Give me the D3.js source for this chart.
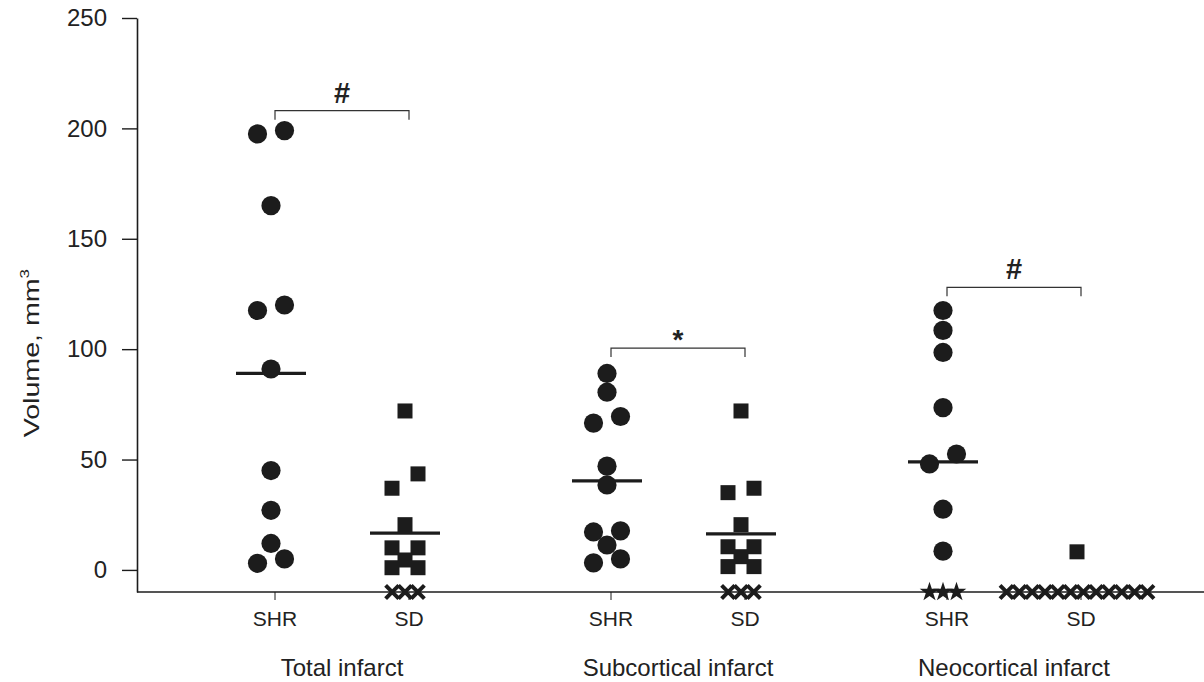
<!DOCTYPE html>
<html>
<head>
<meta charset="utf-8">
<script src="https://cdn.jsdelivr.net/npm/d3@7"></script>
<style>
  body { margin: 0; background: #fff; }
  svg { display: block; }
  text { font-family: "Liberation Sans", Arial, sans-serif; fill: #222; }
</style>
</head>
<body>
<svg width="1204" height="682"></svg>
<script>
// groups and strains
var groups = ["Total infarct", "Subcortical infarct", "Neocortical infarct"];
var strains = ["SHR", "SD"];

// infarct volume per animal, mm3
var totalShr = [199, 197.5, 165, 120, 117.5, 91, 45, 27, 12, 5, 3];
var totalSd  = [72, 43.5, 37, 20.5, 10, 10, 4.5, 1, 1];
var subShr   = [89, 80.5, 69.5, 66.5, 47, 38.5, 17.7, 17.2, 11.3, 5, 3.2];
var subSd    = [72, 37, 35, 20.5, 10.5, 10.5, 6, 1.5, 1.5];
var neoShr   = [117.5, 108.5, 98.5, 73.5, 52.5, 48, 27.5, 8.5];
var neoSd    = [8.2];

// animals with no infarct of that type (plotted on the axis)
var zeroCounts = [0, 3, 0, 3, 3, 12];
// median lines (null = not drawn)
var medians = [89, 16.7, 40.3, 16.3, 48.9, null];

// significance brackets
var sigLabels = ["#", "*", "#"];
var sigLevels = [208, 100.5, 128];

var yTicks = [0, 50, 100, 150, 200, 250];

var svg = d3.select("svg"),
    margin = {top: 18, left: 137, bottom: 90},
    W = +svg.attr("width"),
    H = +svg.attr("height");

var y = d3.scaleLinear().domain([-10, 250]).range([H - margin.bottom, margin.top]);
var x0 = d3.scalePoint().domain(groups).range([338, 1010]);
var x1 = d3.scalePoint().domain(strains).range([-67, 67]);
var tickShift = 4;
var dx = d3.scaleLinear().domain([-1, 1]);

var series = [
  {g: groups[0], s: "SHR", values: totalShr},
  {g: groups[0], s: "SD",  values: totalSd},
  {g: groups[1], s: "SHR", values: subShr},
  {g: groups[1], s: "SD",  values: subSd},
  {g: groups[2], s: "SHR", values: neoShr},
  {g: groups[2], s: "SD",  values: neoSd}
];
series.forEach(function(d, i) {
  d.x = x0(d.g) + x1(d.s);
  d.zero = zeroCounts[i];
  d.median = medians[i];
});

// simple swarm: close neighbours are split left/right, others stay centred
function swarm(vals) {
  var v = vals.slice().sort(d3.descending), out = [], i = 0;
  while (i < v.length) {
    var d1 = i + 1 < v.length ? v[i] - v[i + 1] : Infinity;
    var d2 = i + 2 < v.length ? v[i + 1] - v[i + 2] : Infinity;
    if (d1 < 7.5 && d1 <= d2) {
      out.push({v: v[i], k: 1}, {v: v[i + 1], k: -1});
      i += 2;
    } else {
      out.push({v: v[i], k: 0});
      i++;
    }
  }
  return out;
}

var ink = "#1c1c1c";

// y axis
var yAxis = svg.append("g")
  .attr("transform", "translate(" + margin.left + ",0)")
  .call(d3.axisLeft(y).tickValues(yTicks).tickSize(15).tickSizeOuter(0).tickPadding(15));
yAxis.select(".domain").attr("stroke", ink).attr("stroke-width", 1.6);
yAxis.selectAll(".tick line").attr("stroke", ink).attr("stroke-width", 1.4);
yAxis.selectAll(".tick text").attr("font-size", 24).attr("fill", "#222")
  .attr("font-family", "Liberation Sans, Arial, sans-serif");

svg.append("text")
  .attr("transform", "translate(39," + (y(100) + 4) + ") rotate(-90) scale(1.3,1)")
  .attr("text-anchor", "middle")
  .attr("font-size", 22)
  .text("Volume, mm")
  .append("tspan").attr("dy", -10).attr("font-size", 13).text("3");

// x axis line
svg.append("line")
  .attr("x1", margin.left).attr("x2", W)
  .attr("y1", y(-10)).attr("y2", y(-10))
  .attr("stroke", ink).attr("stroke-width", 1.6);

var xt = svg.append("g").selectAll("g").data(series).enter().append("g")
  .attr("transform", function(d) { return "translate(" + (d.x + tickShift) + "," + y(-10) + ")"; });
xt.append("line").attr("y2", 8).attr("stroke", ink).attr("stroke-width", 1);
xt.append("text")
  .attr("y", 34).attr("text-anchor", "middle").attr("font-size", 21)
  .text(function(d) { return d.s; });

svg.append("g").selectAll("text").data(groups).enter().append("text")
  .attr("x", function(d) { return x0(d) + tickShift; })
  .attr("y", H - 6)
  .attr("text-anchor", "middle")
  .attr("font-size", 24)
  .text(function(d) { return d; });

// points
var sg = svg.append("g").selectAll("g").data(series).enter().append("g");

sg.filter(function(d) { return d.s === "SHR"; })
  .selectAll("circle")
  .data(function(d) { return swarm(d.values).map(function(p) { p.x = d.x; return p; }); })
  .enter().append("circle")
  .attr("cx", function(p) { return p.x + dx.range([-13.5, 13.5])(p.k); })
  .attr("cy", function(p) { return y(p.v); })
  .attr("r", 9.6)
  .attr("fill", ink);

sg.filter(function(d) { return d.s === "SD"; })
  .selectAll("rect")
  .data(function(d) { return swarm(d.values).map(function(p) { p.x = d.x; return p; }); })
  .enter().append("rect")
  .attr("x", function(p) { return p.x + dx.range([-13, 13])(p.k) - 7.5; })
  .attr("y", function(p) { return y(p.v) - 7.5; })
  .attr("width", 15).attr("height", 15)
  .attr("fill", ink);

// zero-volume animals on the axis: stars for SHR, crosses for SD
var cross = d3.symbol(d3.symbolTimes, 115)();
var star = d3.symbol(d3.symbolStar, 120)();
sg.selectAll("path.zero")
  .data(function(d) {
    return d3.range(d.zero).map(function(j) {
      return {x: d.x + (j - (d.zero - 1) / 2) * (d.s === "SHR" ? 13.5 : 12.8), s: d.s};
    });
  })
  .enter().append("path")
  .attr("class", "zero")
  .attr("d", function(p) { return p.s === "SHR" ? star : cross; })
  .attr("transform", function(p) { return "translate(" + p.x + "," + y(-10) + ")"; })
  .attr("fill", function(p) { return p.s === "SHR" ? ink : "none"; })
  .attr("stroke", function(p) { return p.s === "SHR" ? "none" : ink; })
  .attr("stroke-width", 4);

// medians
sg.filter(function(d) { return d.median !== null; })
  .append("line")
  .attr("x1", function(d) { return d.x - 35; })
  .attr("x2", function(d) { return d.x + 35; })
  .attr("y1", function(d) { return y(d.median); })
  .attr("y2", function(d) { return y(d.median); })
  .attr("stroke", ink).attr("stroke-width", 3.2);

// significance brackets
var br = svg.append("g").selectAll("g").data(groups).enter().append("g");
br.append("path")
  .attr("d", function(d, i) {
    var a = x0(d) + x1("SHR") + tickShift, b = x0(d) + x1("SD") + tickShift, h = y(sigLevels[i]);
    return "M" + a + "," + (h + 9) + "V" + h + "H" + b + "V" + (h + 9);
  })
  .attr("fill", "none").attr("stroke", "#333").attr("stroke-width", 1.2);
br.append("text")
  .attr("x", function(d) { return x0(d) + tickShift; })
  .attr("y", function(d, i) { return y(sigLevels[i]) - (sigLabels[i] === "*" ? -1 : 8); })
  .attr("text-anchor", "middle")
  .attr("font-weight", "bold")
  .attr("font-size", function(d, i) { return sigLabels[i] === "*" ? 28 : 29; })
  .text(function(d, i) { return sigLabels[i]; });
</script>
</body>
</html>
